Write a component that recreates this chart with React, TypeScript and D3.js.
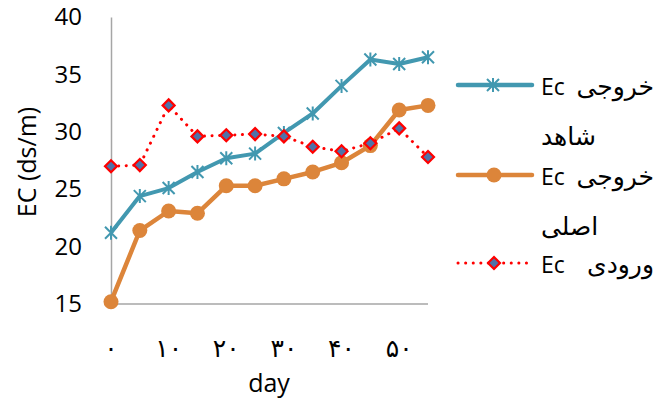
import React, { useEffect, useRef } from "react";
import * as d3 from "d3";

const days = [0, 5, 10, 15, 20, 25, 30, 35, 40, 45, 50, 55];
const controlOut = [21.2, 24.4, 25.1, 26.5, 27.7, 28.1, 29.9, 31.6, 34.0, 36.3, 35.9, 36.5];
const mainOut = [15.2, 21.4, 23.1, 22.9, 25.3, 25.3, 25.9, 26.5, 27.3, 28.8, 31.9, 32.3];
const inputEc = [27.0, 27.1, 32.3, 29.6, 29.7, 29.8, 29.6, 28.7, 28.3, 29.0, 30.3, 27.8];

const yTicks = [15, 20, 25, 30, 35, 40];
const xTickDays = [0, 10, 20, 30, 40, 50];
const xTickLabels = ["۰", "۱۰", "۲۰", "۳۰", "۴۰", "۵۰"];

const legendWords = [
  { ec: "Ec", fa: "خروجی", second: "شاهد" },
  { ec: "Ec", fa: "خروجی", second: "اصلی" },
  { ec: "Ec", fa: "ورودی", second: "" },
];

const BLUE = "#4298b0";
const ORANGE = "#dc853a";
const RED = "#ff0000";
const DIAMOND = "#4f72a8";
const FONT = "'Open Sans', sans-serif";
const FA_FONT = "'DejaVu Sans', sans-serif";

function star(g, cx, cy) {
  const s = 7;
  const d = 6;
  g.append("path")
    .attr("d", `M${cx},${cy - s}L${cx},${cy + s}M${cx - d},${cy - d}L${cx + d},${cy + d}M${cx - d},${cy + d}L${cx + d},${cy - d}`)
    .attr("stroke", BLUE)
    .attr("stroke-width", 2)
    .attr("fill", "none");
}

function diamond(g, cx, cy) {
  const r = 6;
  g.append("path")
    .attr("d", `M${cx},${cy - r}L${cx + r},${cy}L${cx},${cy + r}L${cx - r},${cy}Z`)
    .attr("fill", DIAMOND)
    .attr("stroke", RED)
    .attr("stroke-width", 2.2);
}

export default function App() {
  const ref = useRef<SVGSVGElement>(null);

  useEffect(() => {
    const svg = d3.select(ref.current);
    svg.selectAll("*").remove();

    const x = d3.scalePoint<number>().domain(days).range([111, 428]);
    const y = d3.scaleLinear().domain([15, 40]).range([304, 17]);

    // y axis
    const yAxis = svg.append("g")
      .attr("transform", "translate(111,0)")
      .call(d3.axisLeft(y).tickValues(yTicks).tickSize(0).tickPadding(29));
    yAxis.select(".domain").attr("stroke", "#a6a6a6").attr("stroke-width", 1.5);
    yAxis.selectAll("text")
      .attr("font-family", FONT)
      .attr("font-size", 24)
      .attr("fill", "#000");

    // x axis line
    svg.append("line")
      .attr("x1", 111).attr("x2", 428)
      .attr("y1", y(15)).attr("y2", y(15))
      .attr("stroke", "#a6a6a6")
      .attr("stroke-width", 1.5);

    svg.append("g")
      .selectAll("text")
      .data(xTickDays)
      .join("text")
      .attr("x", d => x(d))
      .attr("y", 357)
      .attr("text-anchor", "middle")
      .attr("font-family", FA_FONT)
      .attr("font-size", 25)
      .text((d, i) => xTickLabels[i]);

    svg.append("text")
      .attr("x", 269).attr("y", 392)
      .attr("text-anchor", "middle")
      .attr("font-family", FONT)
      .attr("font-size", 25)
      .text("day");

    svg.append("text")
      .attr("transform", "translate(36,162) rotate(-90)")
      .attr("text-anchor", "middle")
      .attr("font-family", FONT)
      .attr("font-size", 25)
      .text("EC (ds/m)");

    const line = d3.line<number>()
      .x((d, i) => x(days[i]))
      .y(d => y(d));

    // control output
    svg.append("path")
      .datum(controlOut)
      .attr("d", line)
      .attr("fill", "none")
      .attr("stroke", BLUE)
      .attr("stroke-width", 4)
      .attr("stroke-linejoin", "round");
    const gStar = svg.append("g");
    controlOut.forEach((v, i) => star(gStar, x(days[i]), y(v)));

    // main output
    svg.append("path")
      .datum(mainOut)
      .attr("d", line)
      .attr("fill", "none")
      .attr("stroke", ORANGE)
      .attr("stroke-width", 4.5)
      .attr("stroke-linejoin", "round");
    svg.append("g")
      .selectAll("circle")
      .data(mainOut)
      .join("circle")
      .attr("cx", (d, i) => x(days[i]))
      .attr("cy", d => y(d))
      .attr("r", 7.5)
      .attr("fill", ORANGE);

    // input
    svg.append("path")
      .datum(inputEc)
      .attr("d", line)
      .attr("fill", "none")
      .attr("stroke", RED)
      .attr("stroke-width", 3)
      .attr("stroke-linecap", "round")
      .attr("stroke-dasharray", "0.1 7.5");
    const gDia = svg.append("g");
    inputEc.forEach((v, i) => diamond(gDia, x(days[i]), y(v)));

    // legend
    const legendY = [85, 175, 263];
    const lg = svg.append("g");
    legendY.forEach((ly, i) => {
      if (i === 2) {
        lg.append("line")
          .attr("x1", 458).attr("x2", 532).attr("y1", ly).attr("y2", ly)
          .attr("stroke", RED).attr("stroke-width", 3)
          .attr("stroke-linecap", "round").attr("stroke-dasharray", "0.1 7.5");
        diamond(lg, 494, ly);
      } else {
        lg.append("line")
          .attr("x1", 458).attr("x2", 532).attr("y1", ly).attr("y2", ly)
          .attr("stroke", i === 0 ? BLUE : ORANGE).attr("stroke-width", 4.5)
          .attr("stroke-linecap", "round");
        if (i === 0) star(lg, 493, ly);
        else lg.append("circle").attr("cx", 494).attr("cy", ly).attr("r", 7.5).attr("fill", ORANGE);
      }
      const w = legendWords[i];
      lg.append("text")
        .attr("x", 541).attr("y", ly + 10)
        .attr("font-family", FONT).attr("font-size", 23)
        .text(w.ec);
      lg.append("text")
        .attr("x", 654).attr("y", ly + 10)
        .attr("text-anchor", "end")
        .attr("font-family", FA_FONT).attr("font-size", 25)
        .text(w.fa);
      if (w.second) {
        lg.append("text")
          .attr("x", 541).attr("y", ly + 60)
          .attr("text-anchor", "start")
          .attr("font-family", FA_FONT).attr("font-size", 25)
          .text(w.second);
      }
    });
  }, []);

  return (
    <div style={{ position: "absolute", left: 0, top: 0 }}>
      <svg ref={ref} width={672} height={403} style={{ display: "block", background: "#fff" }} />
    </div>
  );
}
